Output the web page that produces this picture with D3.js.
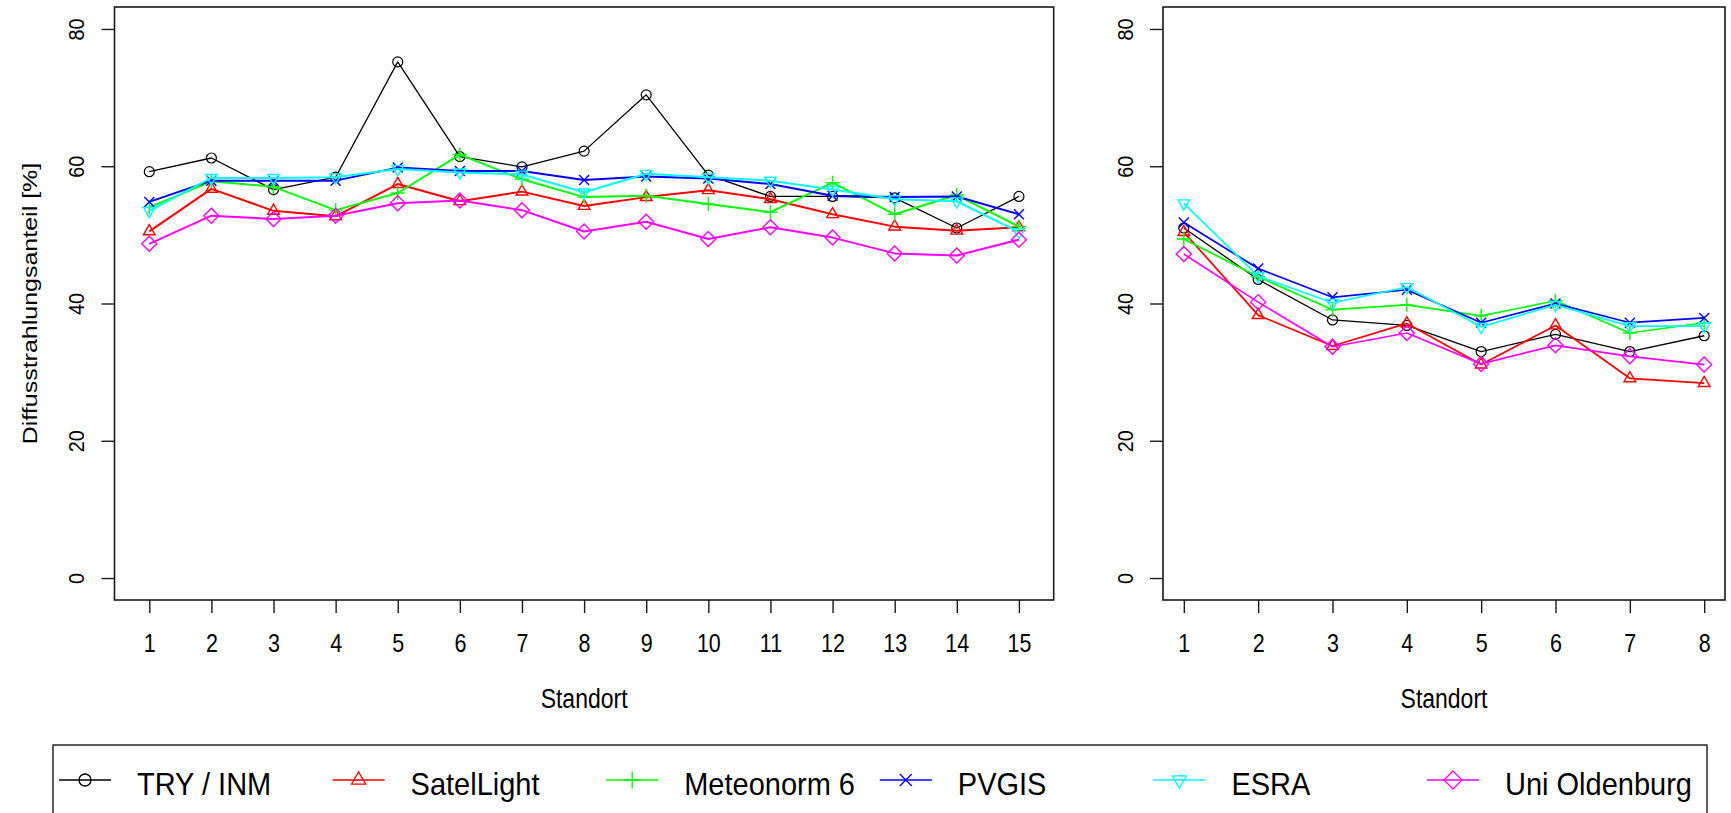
<!DOCTYPE html>
<html>
<head>
<meta charset="utf-8">
<script src="https://cdn.jsdelivr.net/npm/d3@7"></script>
<style>
  html, body { margin: 0; background: #fff; }
  svg { display: block; }
  text { font-family: "Liberation Sans", Arial, sans-serif; fill: #000; }
</style>
</head>
<body>
<svg id="chart" width="1731" height="813"></svg>
<script>
// ---- data -------------------------------------------------------------
const seriesNames   = ["TRY / INM", "SatelLight", "Meteonorm 6", "PVGIS", "ESRA", "Uni Oldenburg"];
const seriesColors  = ["#000000", "#ff0000", "#00ff00", "#0000ff", "#00ffff", "#ff00ff"];
const seriesSymbols = ["circle", "triangle", "plus", "cross", "triangleDown", "diamond"];

// left panel: 15 sites
const sitesLeft = [1, 2, 3, 4, 5, 6, 7, 8, 9, 10, 11, 12, 13, 14, 15];
const tryLeft        = [59.2, 61.2, 56.6, 58.4, 75.2, 61.4, 59.9, 62.2, 70.4, 58.7, 55.6, 55.6, 55.4, 51.0, 55.6];
const satelLeft      = [50.5, 56.7, 53.5, 52.7, 57.4, 54.9, 56.3, 54.2, 55.5, 56.5, 55.2, 53.0, 51.2, 50.6, 51.1];
const meteonormLeft  = [54.0, 57.8, 57.0, 53.6, 56.1, 61.7, 58.1, 55.5, 55.7, 54.5, 53.3, 57.6, 53.0, 55.8, 51.2];
const pvgisLeft      = [54.8, 57.9, 57.9, 57.9, 59.8, 59.3, 59.3, 58.0, 58.5, 58.2, 57.4, 55.7, 55.5, 55.6, 53.0];
const esraLeft       = [53.5, 58.3, 58.3, 58.4, 59.6, 59.1, 58.8, 56.2, 58.9, 58.4, 57.9, 56.6, 55.2, 54.9, 50.4];
const oldenburgLeft  = [48.7, 52.8, 52.3, 52.8, 54.6, 55.0, 53.6, 50.5, 51.9, 49.4, 51.1, 49.6, 47.3, 47.0, 49.3];

// right panel: 8 sites
const sitesRight = [1, 2, 3, 4, 5, 6, 7, 8];
const tryRight       = [51.0, 43.5, 37.6, 36.8, 33.0, 35.5, 33.0, 35.3];
const satelRight     = [50.4, 38.3, 33.8, 37.1, 31.1, 36.8, 29.1, 28.4];
const meteonormRight = [49.4, 43.9, 39.1, 39.8, 38.2, 40.4, 35.7, 37.2];
const pvgisRight     = [51.8, 45.1, 40.9, 42.0, 37.2, 40.0, 37.2, 37.9];
const esraRight      = [54.6, 44.0, 40.1, 42.4, 36.6, 39.8, 36.7, 36.7];
const oldenburgRight = [47.2, 40.2, 33.7, 35.7, 31.2, 33.9, 32.3, 31.1];

const yTicks = [0, 20, 40, 60, 80];
const yLabel = "Diffusstrahlungsanteil [%]";
const xLabel = "Standort";

// ---- layout -----------------------------------------------------------
const svg = d3.select("#chart");
const plotTop = 7, plotBottom = 600;

const panels = [
  { sites: sitesLeft, left: 114.5, right: 1053.7,
    values: [tryLeft, satelLeft, meteonormLeft, pvgisLeft, esraLeft, oldenburgLeft],
    lineWidth: 2, yTitle: true },
  { sites: sitesRight, left: 1163, right: 1725,
    values: [tryRight, satelRight, meteonormRight, pvgisRight, esraRight, oldenburgRight],
    lineWidth: 1.7, yTitle: false }
];

// R-style axis range: data range padded by 4% on each side
function padded(lo, hi) { const d = (hi - lo) * 0.04; return [lo - d, hi + d]; }

// marker outlines, centred on (0,0)
function symbolPath(kind, s) {
  switch (kind) {
    case "circle":
      return `M${-s},0A${s},${s} 0 1,0 ${s},0A${s},${s} 0 1,0 ${-s},0Z`;
    case "triangle": {
      const r = s * 1.35;
      return `M0,${-r}L${r * 0.866},${r * 0.5}L${-r * 0.866},${r * 0.5}Z`;
    }
    case "triangleDown": {
      const r = s * 1.35;
      return `M0,${r}L${r * 0.866},${-r * 0.5}L${-r * 0.866},${-r * 0.5}Z`;
    }
    case "plus": {
      const r = s * 1.4;
      return `M${-r},0L${r},0M0,${-r}L0,${r}`;
    }
    case "cross": {
      const r = s;
      return `M${-r},${-r}L${r},${r}M${-r},${r}L${r},${-r}`;
    }
    case "diamond": {
      const r = s * 1.5;
      return `M0,${-r}L${r},0L0,${r}L${-r},0Z`;
    }
  }
}

const y = d3.scaleLinear().domain(padded(0, 80)).range([plotBottom, plotTop]);

panels.forEach(p => {
  const x = d3.scaleLinear()
    .domain(padded(p.sites[0], p.sites[p.sites.length - 1]))
    .range([p.left, p.right]);

  const g = svg.append("g");

  // series lines and markers
  p.values.forEach((vals, i) => {
    const pts = p.sites.map((s, j) => [s, vals[j]]);
    const line = d3.line().x(d => x(d[0])).y(d => y(d[1]));
    g.append("path")
      .attr("d", line(pts))
      .attr("fill", "none")
      .attr("stroke", seriesColors[i])
      .attr("stroke-width", i === 0 ? 1.3 : p.lineWidth)
      .attr("stroke-linejoin", "round");
    g.selectAll(null).data(pts).enter().append("path")
      .attr("transform", d => `translate(${x(d[0])},${y(d[1])})`)
      .attr("d", symbolPath(seriesSymbols[i], 5))
      .attr("fill", "none")
      .attr("stroke", seriesColors[i])
      .attr("stroke-width", i === 0 ? 1.2 : 1.4);
  });

  // plot frame
  g.append("rect")
    .attr("x", p.left).attr("y", plotTop)
    .attr("width", p.right - p.left).attr("height", plotBottom - plotTop)
    .attr("fill", "none").attr("stroke", "#1a1a1a").attr("stroke-width", 1.6);

  // y axis with rotated labels
  const ya = g.append("g").attr("transform", `translate(${p.left},0)`)
    .call(d3.axisLeft(y).tickValues(yTicks).tickSize(13).tickFormat(d3.format("d")));
  ya.select(".domain").remove();
  ya.selectAll(".tick line").attr("stroke", "#1a1a1a").attr("stroke-width", 1.4);
  ya.selectAll(".tick text")
    .attr("x", null).attr("dy", "0.358em")
    .attr("text-anchor", "middle")
    .attr("fill", "#111")
    .style("font-size", "21.5px")
    .attr("transform", "translate(-38,0) rotate(-90) scale(0.92,1.02)");

  // x axis
  const xa = g.append("g").attr("transform", `translate(0,${plotBottom})`)
    .call(d3.axisBottom(x).tickValues(p.sites).tickSize(13).tickFormat(d3.format("d")));
  xa.select(".domain").remove();
  xa.selectAll(".tick line").attr("stroke", "#1a1a1a").attr("stroke-width", 1.4);
  xa.selectAll(".tick text")
    .attr("y", null).attr("dy", null)
    .attr("fill", "#111")
    .style("font-size", "21.5px")
    .attr("transform", "translate(0,52) scale(1,1.22)");

  // axis titles
  g.append("text")
    .attr("text-anchor", "middle")
    .style("font-size", "23px")
    .attr("fill", "#111")
    .attr("transform", `translate(${(p.left + p.right) / 2},708) scale(1,1.21)`)
    .text(xLabel);

  if (p.yTitle) {
    g.append("text")
      .attr("text-anchor", "middle")
      .attr("dy", "0.358em")
      .style("font-size", "20px")
      .attr("fill", "#111")
      .attr("transform", `translate(30,${(plotTop + plotBottom) / 2}) rotate(-90) scale(1.25,1)`)
      .text(yLabel);
  }
});

// ---- legend (horizontal, box runs past the bottom edge) ----------------
const legend = svg.append("g");
legend.append("rect")
  .attr("x", 53).attr("y", 745).attr("width", 1654).attr("height", 120)
  .attr("fill", "#fff").attr("stroke", "#1a1a1a").attr("stroke-width", 1.4);

const legendStep = 273.6, legendFirst = 85, legendY = 780;
seriesNames.forEach((name, i) => {
  const cx = legendFirst + i * legendStep;
  const item = legend.append("g");
  item.append("line")
    .attr("x1", cx - 26).attr("x2", cx + 26)
    .attr("y1", legendY).attr("y2", legendY)
    .attr("stroke", seriesColors[i]).attr("stroke-width", 1.5);
  item.append("path")
    .attr("transform", `translate(${cx},${legendY})`)
    .attr("d", symbolPath(seriesSymbols[i], 6))
    .attr("fill", "none")
    .attr("stroke", seriesColors[i]).attr("stroke-width", 1.3);
  item.append("text")
    .style("font-size", "29px")
    .attr("fill", "#111")
    .attr("transform", `translate(${cx + 52},795) scale(1,1.1)`)
    .text(name);
});
</script>
</body>
</html>
